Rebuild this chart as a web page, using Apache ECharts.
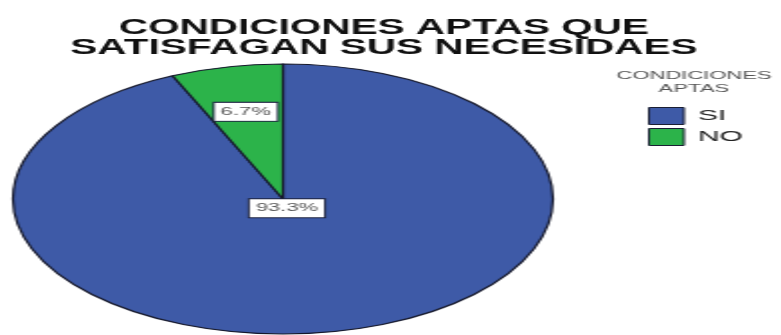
<!DOCTYPE html>
<html>
<head>
<meta charset="utf-8">
<script src="https://cdn.jsdelivr.net/npm/echarts@6/dist/echarts.min.js"></script>
<style>
  html, body { margin: 0; padding: 0; background: #ffffff; }
  #wrap { position: relative; width: 781px; height: 335px; overflow: hidden; background: #fff; }
  #pie { position: absolute; left: 0; top: 0; width: 390.5px; height: 335px; transform: scaleX(2); transform-origin: 0 0; }
  #ttl { position: absolute; left: 0; top: 0; width: 433.9px; height: 80px; transform: scaleX(1.8); transform-origin: 0 0; pointer-events: none; }
</style>
</head>
<body>
<div id="wrap">
  <div id="pie"></div>
  <div id="ttl"></div>
</div>
<script>
// ---- data ----
const categories = ['SI', 'NO'];
const percentages = [93.3, 6.7];
const chartTitle = 'CONDICIONES APTAS QUE\nSATISFAGAN SUS NECESIDAES';
const legendTitle = 'CONDICIONES\nAPTAS';
const colors = ['#3e5aa7', '#2cb34a'];

// ---- layout constants (unscaled coordinates of the pie chart) ----
const CX = 141.5, CY = 199, R = 135;
const labelRadiusFrac = [0.07, 0.66];

const total = percentages.reduce((a, b) => a + b, 0);
const cum = [];
let acc = 0;
percentages.forEach(v => { cum.push(acc); acc += v; });

const pieChart = echarts.init(document.getElementById('pie'), null, { renderer: 'canvas' });
pieChart.setOption({
  animation: false,
  backgroundColor: 'transparent',
  title: {
    text: legendTitle,
    left: 347, top: 69, padding: 0,
    textAlign: 'center',
    textStyle: { fontFamily: 'Liberation Sans, Arial, sans-serif', fontSize: 11, fontWeight: 'normal', color: '#555', lineHeight: 13 }
  },
  legend: {
    orient: 'vertical',
    left: 324, top: 107, padding: 0,
    itemWidth: 17.5, itemHeight: 17, itemGap: 3,
    icon: 'rect',
    itemStyle: { borderColor: '#1a1f33', borderWidth: 1 },
    textStyle: { fontFamily: 'Liberation Sans, Arial, sans-serif', fontSize: 15, color: '#222', padding: [0, 0, 0, 2] },
    data: categories
  },
  series: [{
    type: 'pie',
    center: [CX, CY],
    radius: [0, R],
    startAngle: 90,
    clockwise: true,
    silent: true,
    color: colors,
    itemStyle: { borderColor: '#15182b', borderWidth: 1.2 },
    label: {
      show: true,
      position: 'inside',
      formatter: p => p.value.toFixed(1) + '%',
      fontFamily: 'Liberation Sans, Arial, sans-serif',
      fontSize: 11,
      color: '#555',
      backgroundColor: '#ffffff',
      borderColor: '#1c2340',
      borderWidth: 1,
      padding: [4, 3, 3, 3]
    },
    labelLine: { show: false },
    labelLayout: function (params) {
      const i = params.dataIndex;
      const mid = (cum[i] + percentages[i] / 2) / total;
      const th = mid * 2 * Math.PI;
      const rr = labelRadiusFrac[i] * R;
      return {
        x: CX + rr * Math.sin(th),
        y: CY - rr * Math.cos(th),
        align: 'center',
        verticalAlign: 'middle'
      };
    },
    data: categories.map((c, i) => ({ name: c, value: percentages[i] }))
  }]
});

const ttlChart = echarts.init(document.getElementById('ttl'), null, { renderer: 'canvas' });
ttlChart.setOption({
  animation: false,
  backgroundColor: 'transparent',
  title: {
    text: chartTitle,
    left: 213.3, top: 18, padding: 0,
    textAlign: 'center',
    textStyle: { fontFamily: 'Liberation Sans, Arial, sans-serif', fontSize: 22.5, fontWeight: 'bold', color: '#111', lineHeight: 20 }
  }
});
</script>
</body>
</html>
